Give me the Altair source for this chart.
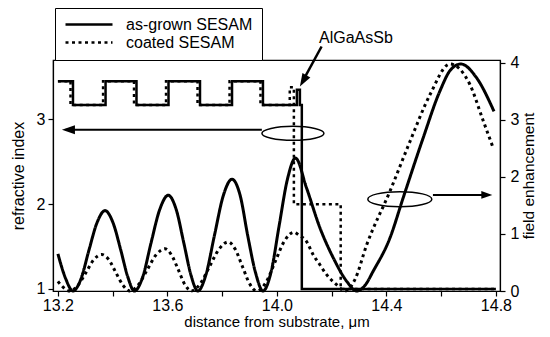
import altair as alt
import pandas as pd

FONT = "Liberation Sans"
SERIES = ["as-grown SESAM", "coated SESAM"]

# ---- refractive index profiles (step-after) ----
grown_prof_x = [13.2, 13.255, 13.374, 13.487, 13.604, 13.719, 13.836, 13.949, 14.073, 14.084, 14.091, 14.8]
grown_prof_n = [3.45, 3.17, 3.45, 3.17, 3.45, 3.17, 3.45, 3.17, 3.35, 3.17, 1.0, 1.0]
coated_prof_x = [13.2, 13.246, 13.365, 13.478, 13.595, 13.71, 13.827, 13.94, 14.047, 14.062, 14.233, 14.8]
coated_prof_n = [3.45, 3.17, 3.45, 3.17, 3.45, 3.17, 3.45, 3.17, 3.38, 2.0, 1.0, 1.0]

# ---- field enhancement ----
grown_field_x = [13.2, 13.228, 13.255, 13.284, 13.313, 13.343, 13.372, 13.401, 13.43, 13.455, 13.479,
                 13.51, 13.54, 13.572, 13.603, 13.632, 13.66, 13.686, 13.711,
                 13.741, 13.772, 13.804, 13.836, 13.866, 13.893, 13.922, 13.949,
                 13.979, 14.008, 14.038, 14.068, 14.108, 14.157, 14.206, 14.255, 14.291,
                 14.322, 14.352, 14.413, 14.461, 14.534, 14.595, 14.635, 14.672, 14.729, 14.793]
grown_field_y = [0.65, 0.22, 0.0, 0.21, 0.71, 1.2, 1.41, 1.2, 0.71, 0.25, 0.0,
                 0.25, 0.84, 1.43, 1.68, 1.43, 0.84, 0.28, 0.0,
                 0.29, 0.98, 1.67, 1.96, 1.67, 0.98, 0.32, 0.0,
                 0.34, 1.14, 1.95, 2.33, 1.81, 1.11, 0.58, 0.17, 0.0,
                 0.1, 0.35, 0.93, 1.63, 2.68, 3.5, 3.88, 3.98, 3.74, 3.15]
coated_field_x = [13.2, 13.212, 13.244, 13.273, 13.302, 13.331, 13.36, 13.386, 13.412, 13.438, 13.463,
                  13.494, 13.526, 13.558, 13.591, 13.615, 13.64, 13.664, 13.688,
                  13.72, 13.754, 13.788, 13.822, 13.848, 13.874, 13.9, 13.926,
                  13.96, 13.994, 14.028, 14.062, 14.08, 14.108, 14.132, 14.157, 14.181, 14.218, 14.248,
                  14.285, 14.328, 14.413, 14.486, 14.559, 14.632, 14.705, 14.754, 14.79]
coated_field_y = [0.17, 0.1, 0.0, 0.1, 0.32, 0.55, 0.64, 0.55, 0.32, 0.1, 0.0,
                  0.11, 0.37, 0.63, 0.74, 0.63, 0.37, 0.11, 0.0,
                  0.13, 0.43, 0.73, 0.86, 0.73, 0.43, 0.13, 0.0,
                  0.15, 0.52, 0.88, 1.03, 0.98, 0.87, 0.64, 0.46, 0.29, 0.11, 0.0,
                  0.2, 0.81, 1.75, 2.62, 3.44, 3.98, 3.62, 2.98, 2.51]

# ---- axis ticks ----
x_ticks = [13.2, 13.4, 13.6, 13.8, 14.0, 14.2, 14.4, 14.6, 14.8]
x_labels = ["13.2", "13.6", "14.0", "14.4", "14.8"]
n_ticks = [1, 1.5, 2, 2.5, 3, 3.5]
f_ticks = [0, 1, 2, 3, 4]

# ---- annotations (data coordinates) ----
left_ellipse = {"x": 14.0585, "n": 2.835}
left_arrow = {"x": 13.945, "x2": 13.228, "n": 2.878, "tip": 13.2146}
label_pos = {"x": 14.2886, "n": 3.965, "text": "AlGaAsSb"}
diag_arrow = {"x": 14.1632, "n": 3.859, "x2": 14.0968, "n2": 3.465, "tipx": 14.084, "tipn": 3.388}
right_ellipse = {"x": 14.449, "f": 1.61}
right_arrow = {"x": 14.570, "x2": 14.750, "f": 1.684, "tip": 14.787}

prof = pd.concat([
    pd.DataFrame({"x": grown_prof_x, "n": grown_prof_n, "series": SERIES[0]}),
    pd.DataFrame({"x": coated_prof_x, "n": coated_prof_n, "series": SERIES[1]}),
])
field = pd.concat([
    pd.DataFrame({"x": grown_field_x, "f": grown_field_y, "series": SERIES[0]}),
    pd.DataFrame({"x": coated_field_x, "f": coated_field_y, "series": SERIES[1]}),
])

xscale = alt.Scale(domain=[13.182, 14.815], nice=False, zero=False)
xaxis = alt.Axis(values=x_ticks, format=".1f",
                 labelExpr="indexof(" + str(x_labels) + ", datum.label) >= 0 ? datum.label : ''",
                 title="distance from substrate, \u03bcm", titlePadding=1, labelPadding=1,
                 titleFontSize=15)
nscale = alt.Scale(domain=[0.976, 3.7], nice=False, zero=False)
naxis = alt.Axis(values=n_ticks, format="d", labelExpr="datum.value % 1 == 0 ? datum.label : ''",
                 title="refractive index", titlePadding=10, labelPadding=3)
fscale = alt.Scale(domain=[0, 4.05], nice=False, zero=False)
faxis = alt.Axis(values=f_ticks, format="d", orient="right", title="field enhancement",
                 titleAngle=270, titleBaseline="top", titlePadding=3, labelPadding=5,
                 titleFontSize=15.5)

dash = alt.StrokeDash("series:N", scale=alt.Scale(domain=SERIES, range=[[1, 0], [3, 3.5]]),
                      legend=alt.Legend(title=None))

def X(f="x"):
    return alt.X(f + ":Q", scale=xscale, axis=xaxis)

def YN(f="n"):
    return alt.Y(f + ":Q", scale=nscale, axis=naxis)

def YF(f="f"):
    return alt.Y(f + ":Q", scale=fscale, axis=faxis)

def ellipse_path(w, h):
    r = h / w
    return f"M -1 0 A 1 {r:.3f} 0 1 1 1 0 A 1 {r:.3f} 0 1 1 -1 0 Z"

ARROW = "M 0 0 L -0.35 1 L 0.35 1 Z"

prof_layers = []
for s in reversed(SERIES):
    prof_layers.append(
        alt.Chart(prof).transform_filter(alt.datum.series == s)
        .mark_line(interpolate="step-after", color="black", strokeWidth=2.5, strokeCap="butt")
        .encode(x=X(), y=YN(), strokeDash=dash)
    )
field_layers = []
for s in reversed(SERIES):
    field_layers.append(
        alt.Chart(field).transform_filter(alt.datum.series == s)
        .mark_line(interpolate="monotone", color="black", strokeWidth=3, strokeCap="butt")
        .encode(x=X(), y=YF(), strokeDash=dash)
    )

le = alt.Chart(pd.DataFrame([left_ellipse])).mark_point(
    shape=ellipse_path(62, 14), size=62 * 62, filled=False, color="black", strokeWidth=1.5, opacity=1
).encode(x=X(), y=YN())
la = alt.Chart(pd.DataFrame([left_arrow])).mark_rule(color="black", strokeWidth=2).encode(
    x=X(), x2="x2:Q", y=YN())
lh = alt.Chart(pd.DataFrame([left_arrow])).mark_point(
    shape=ARROW, size=676, filled=True, color="black", angle=270, opacity=1
).encode(x=X("tip"), y=YN())
lt = alt.Chart(pd.DataFrame([label_pos])).mark_text(
    font=FONT, fontSize=16, color="black", align="center", baseline="middle"
).encode(x=X(), y=YN(), text="text:N")
da = alt.Chart(pd.DataFrame([diag_arrow])).mark_rule(color="black", strokeWidth=2.5).encode(
    x=X(), y=YN(), x2="x2:Q", y2="n2:Q")
dh = alt.Chart(pd.DataFrame([diag_arrow])).mark_point(
    shape=ARROW, size=676, filled=True, color="black", angle=210, opacity=1
).encode(x=X("tipx"), y=YN("tipn"))

re_ = alt.Chart(pd.DataFrame([right_ellipse])).mark_point(
    shape=ellipse_path(64, 15), size=64 * 64, filled=False, color="black", strokeWidth=1.5, opacity=1
).encode(x=X(), y=YF())
ra = alt.Chart(pd.DataFrame([right_arrow])).mark_rule(color="black", strokeWidth=2).encode(
    x=X(), x2="x2:Q", y=YF())
rh = alt.Chart(pd.DataFrame([right_arrow])).mark_point(
    shape=ARROW, size=484, filled=True, color="black", angle=90, opacity=1
).encode(x=X("tip"), y=YF())

groupA = alt.layer(*prof_layers, le, la, lh, lt, da, dh)
groupB = alt.layer(*field_layers, re_, ra, rh)

chart = (
    alt.layer(groupA, groupB)
    .resolve_scale(y="independent")
    .properties(width=447, height=231,
                padding={"left": 45, "top": 52, "right": 42, "bottom": 38},
                autosize=alt.AutoSizeParams(type="none"))
    .configure_view(stroke="black", strokeWidth=1.2)
    .configure_axis(domainColor="black", tickColor="black", labelColor="black", titleColor="black",
                    labelFont=FONT, titleFont=FONT, labelFontSize=16, titleFontSize=16,
                    titleFontWeight="normal", grid=False, tickSize=5, domainWidth=1.2, tickWidth=1.2)
    .configure_legend(orient="none", legendX=2, legendY=-52, strokeColor="black", strokeWidth=1,
                      padding=9, symbolType="stroke", symbolSize=2209, symbolStrokeWidth=2.5,
                      symbolStrokeColor="black", labelFont=FONT, labelFontSize=16, labelColor="black",
                      labelOffset=12, rowPadding=1, clipHeight=15, fillColor="white")
)

chart.save("out.html", embed_options={"renderer": "svg", "actions": False})
